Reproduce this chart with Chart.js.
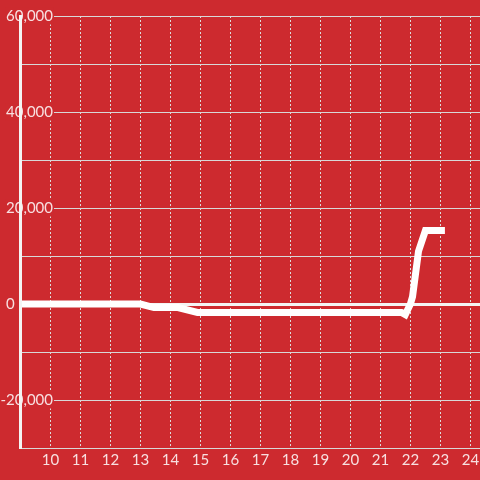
<!DOCTYPE html>
<html>
<head>
<meta charset="utf-8">
<script src="https://cdn.jsdelivr.net/npm/chart.js@4"></script>
<style>
  html, body { margin: 0; padding: 0; background: #cd2a2f; }
  canvas { display: block; }
</style>
</head>
<body>
<canvas id="chart" width="480" height="480"></canvas>
<script>
// valores
const TIMES = [8.5, 13.0, 13.45, 14.25, 14.9, 21.7, 21.83, 22.0, 22.07, 22.27, 22.5, 23.15];
const VALUES = [0, 0, -750, -750, -1750, -1750, -2200, 0, 1500, 11000, 15300, 15300];
const X_TICKS = [9, 10, 11, 12, 13, 14, 15, 16, 17, 18, 19, 20, 21, 22, 23, 24];
const Y_MIN = -30000, Y_MAX = 60000, Y_STEP = 10000;

const BG = "#cd2a2f";
const TEXT = "rgba(255,255,255,0.85)";

function hasLabel(v) {
    return v !== 0 && v % 20000 === 0;
}

new Chart(document.querySelector("#chart").getContext("2d"), {
    type: "line",
    data: {
        datasets: [{
            data: TIMES.map((t, i) => ({ x: t, y: VALUES[i] })),
            borderColor: "#ffffff",
            borderWidth: 7,
            borderCapStyle: "butt",
            pointRadius: 0,
            tension: 0,
            fill: false
        }]
    },
    options: {
        responsive: false,
        animation: false,
        devicePixelRatio: 1,
        layout: { padding: { top: 16, left: 0, right: 0, bottom: 0 } },
        plugins: { legend: { display: false }, tooltip: { enabled: false } },
        scales: {
            x: {
                type: "linear",
                min: 9,
                max: 24.32,
                afterBuildTicks: s => { s.ticks = X_TICKS.map(v => ({ value: v })); },
                afterFit: s => { s.height = 32; s.paddingLeft = 0; s.paddingRight = 0; },
                grid: { color: "#dcdcdc", lineWidth: 1, drawTicks: false },
                border: { display: false, dash: [2, 2] },
                ticks: {
                    color: TEXT,
                    font: { family: "Lato", size: 15 },
                    padding: 3,
                    maxRotation: 0,
                    callback: v => (v === 9 ? "" : String(v))
                }
            },
            y: {
                min: Y_MIN,
                max: Y_MAX,
                afterFit: s => { s.width = 20.5; s.paddingTop = 0; s.paddingBottom = 0; },
                grid: {
                    drawTicks: false,
                    color: c => (c.tick && c.tick.value === 0 ? "#f4f4f4" : "#d8d8d8"),
                    lineWidth: c => (c.tick && c.tick.value === 0 ? 3 : 1)
                },
                border: { color: "#f4f4f4", width: 3, z: 1 },
                ticks: {
                    stepSize: Y_STEP,
                    color: TEXT,
                    font: { family: "Lato", size: 15, lineHeight: 1 },
                    mirror: true,
                    crossAlign: "far",
                    padding: -20,
                    showLabelBackdrop: true,
                    backdropColor: c => (hasLabel(c.tick.value) ? BG : "rgba(0,0,0,0)"),
                    backdropPadding: 1,
                    callback: v => {
                        if (v === 0) return "0" + " ".repeat(10);
                        return hasLabel(v) ? v.toLocaleString("en-US") : "";
                    }
                }
            }
        }
    }
});
</script>
</body>
</html>
